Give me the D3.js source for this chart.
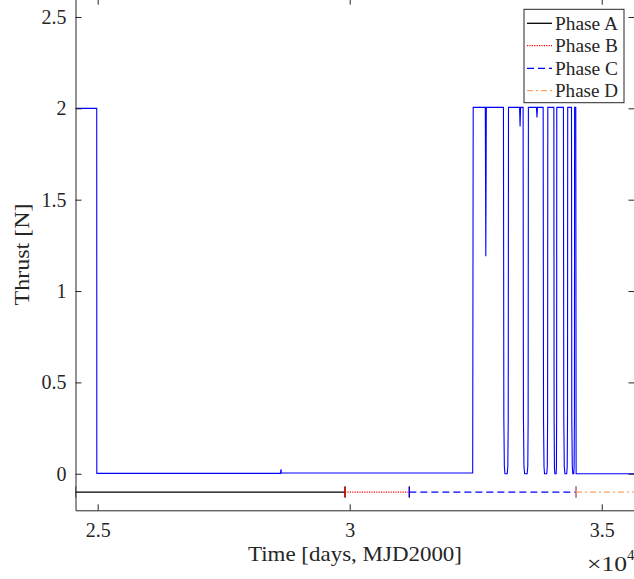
<!DOCTYPE html>
<html>
<head>
<meta charset="utf-8">
<script src="https://cdn.jsdelivr.net/npm/d3@7"></script>
<style>
  html, body { margin: 0; padding: 0; background: #fff; }
  svg { display: block; }
  text { font-family: "Liberation Serif", "DejaVu Serif", serif; fill: #262626; }
</style>
</head>
<body>
<svg id="chart" width="634" height="579"></svg>
<script>
// ---- data ----
const thrustTime = [24560, 24981, 24983, 28630, 28632, 28640, 28642, 32440, 32450, 32690, 32700, 32710,
  33050, 33058, 33068, 33080, 33125, 33137, 33145, 33150, 33370, 33380, 33390, 33440, 33447, 33457, 33470,
  33520, 33533, 33540, 33545, 33705, 33715, 33725, 33838, 33845, 33855, 33865, 33910, 33920, 33926, 33930,
  34050, 34055, 34062, 34070, 34095, 34101, 34105, 34108, 34240, 34247, 34257, 34270, 34305, 34315, 34321, 34325,
  34400, 34406, 34416, 34425, 34445, 34452, 34458, 34462, 34485, 34492, 35650];
const thrustValue = [2.0, 2.0, 0.002, 0.002, 0.02, 0.02, 0.004, 0.004, 2.005, 2.005, 1.19, 2.005,
  2.005, 0.3, 0.04, 0.0, 0.0, 0.04, 0.3, 2.005, 2.005, 1.9, 2.005, 2.005, 0.3, 0.04, 0.0,
  0.0, 0.04, 0.3, 2.005, 2.005, 1.95, 2.005, 2.005, 0.3, 0.04, 0.0, 0.0, 0.04, 0.3, 2.005,
  2.005, 0.3, 0.03, 0.0, 0.0, 0.03, 0.3, 2.005, 2.005, 0.3, 0.04, 0.0, 0.0, 0.04, 0.3, 2.005,
  2.005, 0.3, 0.04, 0.0, 0.0, 0.04, 0.3, 2.005, 2.005, 0.0, 0.0];

const phaseNames = ["Phase A", "Phase B", "Phase C", "Phase D"];
const phaseStart = [24560, 29907, 31183, 34490];
const phaseEnd   = [29907, 31183, 34490, 35700];
const phaseLevel = -0.1;

const xTickValues = [25000, 30000, 35000];
const xTickLabels = ["2.5", "3", "3.5"];
const yTickValues = [0, 0.5, 1, 1.5, 2, 2.5];
const yTickLabels = ["0", "0.5", "1", "1.5", "2", "2.5"];

// ---- styles ----
const phaseColor = ["#000000", "#ff0000", "#0000ff", "#ffa060"];
const phaseDash  = [null, "1.2,1.2", "7,4", "6,3,2,3"];
const axisColor = "#262626";

const svg = d3.select("#chart");
const L = 75.5, R = 634.5, T = -1.3, B = 510.3;

const x = d3.scaleLinear().domain([24560, 35650]).range([L, R]);
const y = d3.scaleLinear().domain([-0.2, 2.6]).range([B, T]);

svg.append("defs").append("clipPath").attr("id", "clip")
  .append("rect").attr("x", L).attr("y", T).attr("width", R - L).attr("height", B - T);

const plot = svg.append("g").attr("clip-path", "url(#clip)");

// thrust line
const pts = thrustTime.map((t, i) => [t, thrustValue[i]]);
plot.append("path")
  .datum(pts)
  .attr("fill", "none")
  .attr("stroke", "#0000ff")
  .attr("stroke-width", 1.1)
  .attr("d", d3.line().x(d => x(d[0])).y(d => y(d[1])));

// phase lines
phaseNames.forEach((p, i) => {
  plot.append("line")
    .attr("x1", x(phaseStart[i])).attr("x2", x(phaseEnd[i]))
    .attr("y1", y(phaseLevel)).attr("y2", y(phaseLevel))
    .attr("stroke", phaseColor[i]).attr("stroke-width", 1.3)
    .attr("stroke-dasharray", phaseDash[i]);
  [phaseStart[i], phaseEnd[i]].forEach(t => {
    plot.append("line")
      .attr("x1", x(t)).attr("x2", x(t))
      .attr("y1", y(phaseLevel) - 5.5).attr("y2", y(phaseLevel) + 5.5)
      .attr("stroke", phaseColor[i]).attr("stroke-width", 1.3);
  });
});

// axes
function styleAxis(g) {
  g.selectAll("path.domain").attr("stroke", axisColor).attr("stroke-width", 1);
  g.selectAll(".tick line").attr("stroke", axisColor).attr("stroke-width", 1);
  g.selectAll(".tick text").attr("fill", axisColor).style("font-size", "20px")
    .style("font-family", '"Liberation Serif", serif');
}

const gx = svg.append("g").attr("transform", `translate(0,${B})`)
  .call(d3.axisBottom(x).tickValues(xTickValues).tickFormat((d, i) => xTickLabels[i])
    .tickSizeInner(-6).tickSizeOuter(0).tickPadding(13));
styleAxis(gx);

const gxt = svg.append("g").attr("transform", `translate(0,${T})`)
  .call(d3.axisTop(x).tickValues(xTickValues).tickFormat("")
    .tickSizeInner(-6).tickSizeOuter(0));
styleAxis(gxt);

const gy = svg.append("g").attr("transform", `translate(${L},0)`)
  .call(d3.axisLeft(y).tickValues(yTickValues).tickFormat((d, i) => yTickLabels[i])
    .tickSizeInner(-6).tickSizeOuter(0).tickPadding(9));
styleAxis(gy);

const gyr = svg.append("g").attr("transform", `translate(${R},0)`)
  .call(d3.axisRight(y).tickValues(yTickValues).tickFormat("")
    .tickSizeInner(-6).tickSizeOuter(0));
styleAxis(gyr);

// axis labels
svg.append("text")
  .attr("x", (L + R) / 2).attr("y", 561)
  .attr("text-anchor", "middle")
  .attr("textLength", 214).attr("lengthAdjust", "spacingAndGlyphs")
  .style("font-size", "21px")
  .text("Time [days, MJD2000]");

svg.append("text")
  .attr("transform", `translate(29,${(T + B) / 2}) rotate(-90)`)
  .attr("text-anchor", "middle")
  .attr("textLength", 102).attr("lengthAdjust", "spacingAndGlyphs")
  .style("font-size", "21px")
  .text("Thrust [N]");

const mult = svg.append("text").attr("x", 587).attr("y", 571).style("font-size", "22px");
mult.append("tspan").attr("textLength", 40).attr("lengthAdjust", "spacingAndGlyphs").text("×10");
mult.append("tspan").attr("dy", -11).style("font-size", "15px").text("4");

// legend
const lg = svg.append("g");
lg.append("rect")
  .attr("x", 524).attr("y", 9.3).attr("width", 100).attr("height", 93.4)
  .attr("fill", "#fff").attr("stroke", axisColor).attr("stroke-width", 1);
const legY = [23.3, 45.7, 68.3, 90.7];
phaseNames.forEach((p, i) => {
  lg.append("line")
    .attr("x1", 527).attr("x2", 552).attr("y1", legY[i]).attr("y2", legY[i])
    .attr("stroke", phaseColor[i]).attr("stroke-width", 1.3)
    .attr("stroke-dasharray", phaseDash[i]);
  lg.append("text")
    .attr("x", 555).attr("y", legY[i] + 6.6)
    .attr("textLength", 63).attr("lengthAdjust", "spacingAndGlyphs")
    .style("font-size", "19.5px").attr("fill", "#000")
    .text(p);
});
</script>
</body>
</html>
